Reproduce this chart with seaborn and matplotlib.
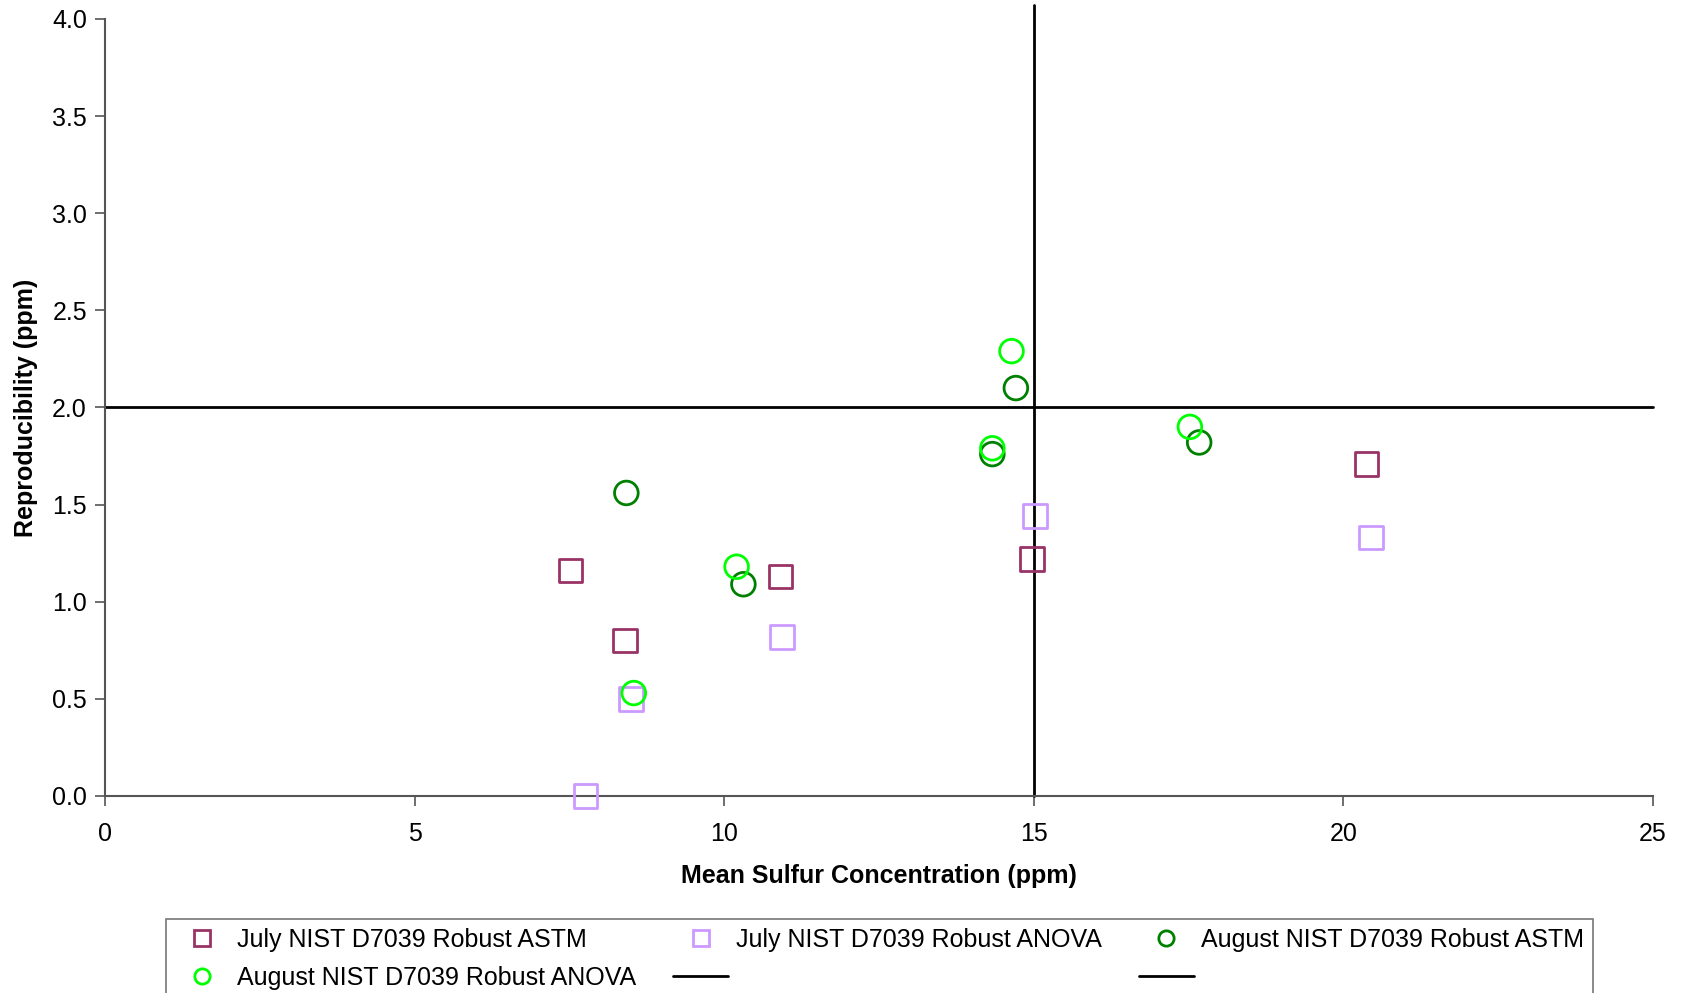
import matplotlib
matplotlib.use("Agg")
import matplotlib.pyplot as plt
from matplotlib.lines import Line2D
import seaborn as sns

# values
july_astm_x = [7.52, 8.40, 10.91, 14.97, 20.37]
july_astm_y = [1.16, 0.80, 1.13, 1.22, 1.71]

july_anova_x = [7.76, 8.49, 10.93, 15.02, 20.44]
july_anova_y = [0.00, 0.50, 0.82, 1.44, 1.33]

aug_astm_x = [8.42, 10.31, 14.33, 14.71, 17.67]
aug_astm_y = [1.56, 1.09, 1.76, 2.10, 1.82]

aug_anova_x = [8.54, 10.20, 14.33, 14.64, 17.52]
aug_anova_y = [0.53, 1.18, 1.79, 2.29, 1.90]

limit_x = 15
limit_y = 2.0

x_ticks = [0, 5, 10, 15, 20, 25]
y_ticks = [0.0, 0.5, 1.0, 1.5, 2.0, 2.5, 3.0, 3.5, 4.0]

series = [
    ("July NIST D7039 Robust ASTM", july_astm_x, july_astm_y, "s", "#993366"),
    ("July NIST D7039 Robust ANOVA", july_anova_x, july_anova_y, "s", "#CC99FF"),
    ("August NIST D7039 Robust ASTM", aug_astm_x, aug_astm_y, "o", "#008000"),
    ("August NIST D7039 Robust ANOVA", aug_anova_x, aug_anova_y, "o", "#00FF00"),
]

sns.set_style("ticks")
plt.rcParams["font.family"] = ["Liberation Sans", "DejaVu Sans"]
plt.rcParams["text.color"] = "black"
plt.rcParams["axes.labelcolor"] = "black"

fig = plt.figure(figsize=(16.82, 9.93), dpi=100)
ax = fig.add_axes([0.0624, 0.1984, 0.9204, 0.7825])

# reference lines
ax.plot([0, 25], [limit_y, limit_y], color="black", lw=2, zorder=1, clip_on=False)
ax.plot([limit_x, limit_x], [0, 4.07], color="black", lw=2, zorder=1, clip_on=False)

handles = {}
for label, xs, ys, marker, color in series:
    sns.scatterplot(x=xs, y=ys, ax=ax, marker=marker, s=290,
                    facecolor="none", edgecolor=color, linewidth=2,
                    zorder=3, clip_on=False, legend=False)
    handles[label] = Line2D([], [], ls="none", marker=marker, markersize=11,
                            markerfacecolor="none", markeredgecolor=color,
                            markeredgewidth=2)

ax.set_xlim(0, 25)
ax.set_ylim(0, 4.0)
ax.set_xticks(x_ticks)
ax.set_yticks(y_ticks)
ax.set_yticklabels([f"{v:.1f}" for v in y_ticks])
ax.tick_params(labelsize=18, length=7, width=1.2, color="#555555", labelcolor="black")
ax.tick_params(axis="x", pad=12)
ax.tick_params(axis="y", pad=6)

for side in ["top", "right"]:
    ax.spines[side].set_visible(False)
for side in ["left", "bottom"]:
    ax.spines[side].set_color("#555555")
    ax.spines[side].set_linewidth(1.5)

ax.set_xlabel("Mean Sulfur Concentration (ppm)", fontsize=18, fontweight="bold", labelpad=13)
ax.set_ylabel("Reproducibility (ppm)", fontsize=18, fontweight="bold", labelpad=10)

line_a = Line2D([], [], color="black", lw=2)
line_b = Line2D([], [], color="black", lw=2)

names = [s[0] for s in series]
# column-major order so rows read like the reference
leg_handles = [handles[names[0]], handles[names[3]], handles[names[1]], line_a,
               handles[names[2]], line_b]
leg_labels = [names[0], names[3], names[1], "", names[2], ""]

leg = fig.legend(leg_handles, leg_labels, ncol=3, loc="upper left",
                 bbox_to_anchor=(0.0987, -0.2, 0.8484, 0.2745), mode="expand",
                 fontsize=18, frameon=True, fancybox=False, edgecolor="#555555",
                 handlelength=2.2, handletextpad=0.3, labelspacing=0.55,
                 borderpad=0.35, borderaxespad=0)
leg.get_frame().set_linewidth(1.2)

fig.savefig("out.png", dpi=100)
